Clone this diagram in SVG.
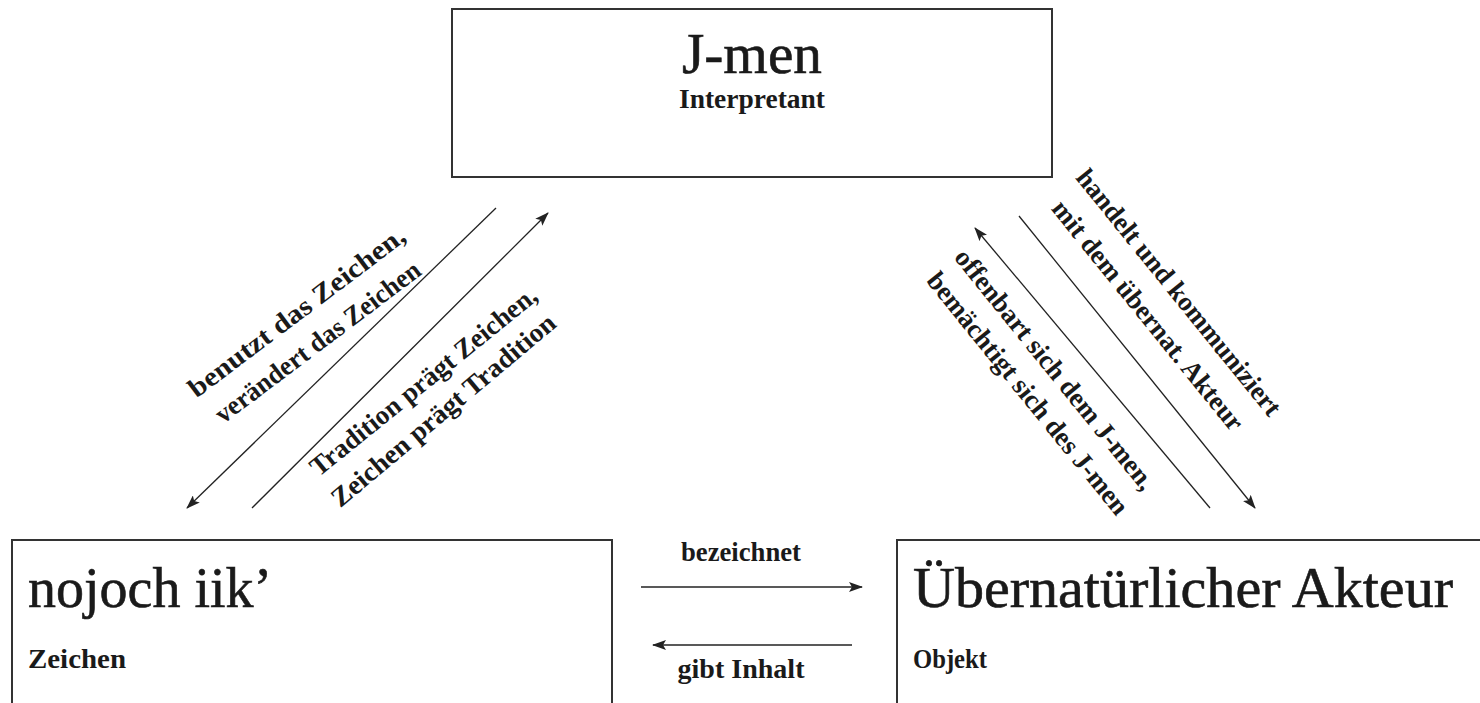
<svg xmlns="http://www.w3.org/2000/svg" width="1480" height="703" viewBox="0 0 1480 703">
<style>
.box{fill:#fff;stroke:#333;stroke-width:2}
.title{font-family:"Liberation Serif",serif;font-size:56px;fill:#1a1a1a;stroke:#1a1a1a;stroke-width:0.6}
.sub{font-family:"Liberation Serif",serif;font-weight:bold;font-size:27px;fill:#1a1a1a}
.lbl{font-family:"Liberation Serif",serif;font-weight:bold;font-size:27px;fill:#1a1a1a}
.conn{stroke:#222;stroke-width:1.3;fill:none;marker-end:url(#ah)}
</style>
<defs>
<marker id="ah" viewBox="0 0 14 10" refX="13" refY="5" markerWidth="14" markerHeight="10" markerUnits="userSpaceOnUse" orient="auto">
<path d="M0,0 L14,5 L0,10 L3,5 Z" fill="#222"/>
</marker>
</defs>
<rect width="1480" height="703" fill="#fff"/>
<g id="interpretant">
<rect class="box" x="452" y="9" width="600" height="168"/>
<text class="title" x="752" y="73" font-size="52" text-anchor="middle" textLength="140" lengthAdjust="spacingAndGlyphs">J-men</text>
<text class="sub" x="752" y="108" font-size="24" text-anchor="middle" textLength="146" lengthAdjust="spacingAndGlyphs">Interpretant</text>
</g>
<g id="zeichen">
<rect class="box" x="12" y="540" width="600" height="200"/>
<text class="title" x="28" y="607">nojoch iik’</text>
<text class="sub" x="28" y="668" textLength="98" lengthAdjust="spacingAndGlyphs">Zeichen</text>
</g>
<g id="objekt">
<rect class="box" x="897" y="540" width="620" height="200"/>
<text class="title" x="913" y="607" textLength="540" lengthAdjust="spacingAndGlyphs">Übernatürlicher Akteur</text>
<text class="sub" x="913" y="668" textLength="74" lengthAdjust="spacingAndGlyphs">Objekt</text>
</g>
<g id="connectors">
<line class="conn" x1="641" y1="587" x2="862" y2="587"/>
<line class="conn" x1="852" y1="645" x2="653" y2="645"/>
<line class="conn" x1="496" y1="208" x2="187" y2="508"/>
<line class="conn" x1="252" y1="508" x2="548" y2="213"/>
<line class="conn" x1="1019" y1="216" x2="1255" y2="508"/>
<line class="conn" x1="1210" y1="508" x2="975" y2="228"/>
<text class="lbl" x="741" y="561" text-anchor="middle" textLength="120" lengthAdjust="spacingAndGlyphs">bezeichnet</text>
<text class="lbl" x="741" y="678" text-anchor="middle" textLength="127" lengthAdjust="spacingAndGlyphs">gibt Inhalt</text>
<text class="lbl" text-anchor="middle" transform="translate(302,319) rotate(-37)" textLength="264" lengthAdjust="spacingAndGlyphs">benutzt das Zeichen,</text>
<text class="lbl" text-anchor="middle" transform="translate(323,349) rotate(-37)" textLength="250" lengthAdjust="spacingAndGlyphs">verändert das Zeichen</text>
<text class="lbl" text-anchor="middle" transform="translate(429,388) rotate(-39)" textLength="284" lengthAdjust="spacingAndGlyphs">Tradition prägt Zeichen,</text>
<text class="lbl" text-anchor="middle" transform="translate(449,417) rotate(-40)" textLength="284" lengthAdjust="spacingAndGlyphs">Zeichen prägt Tradition</text>
<text class="lbl" text-anchor="middle" transform="translate(1172,298) rotate(51)">handelt und kommuniziert</text>
<text class="lbl" text-anchor="middle" transform="translate(1141,321) rotate(51)">mit dem übernat. Akteur</text>
<text class="lbl" text-anchor="middle" transform="translate(1048,375) rotate(51)">offenbart sich dem J-men,</text>
<text class="lbl" text-anchor="middle" transform="translate(1021,399) rotate(51)">bemächtigt sich des J-men</text>
</g>
</svg>
